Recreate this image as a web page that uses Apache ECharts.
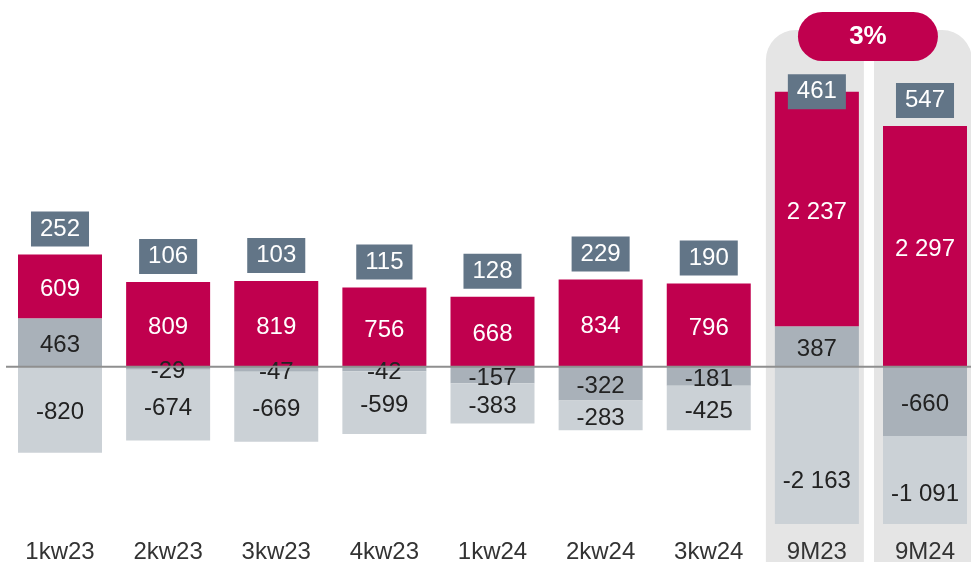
<!DOCTYPE html>
<html>
<head>
<meta charset="utf-8">
<script src="https://cdn.jsdelivr.net/npm/echarts@6/dist/echarts.min.js"></script>
<style>
  html, body { margin: 0; padding: 0; background: #fff; }
  #chart { width: 971px; height: 562px; }
</style>
</head>
<body>
<div id="chart"></div>
<script>
const categories = ['1kw23', '2kw23', '3kw23', '4kw23', '1kw24', '2kw24', '3kw24', '9M23', '9M24'];
const redValues = [609, 809, 819, 756, 668, 834, 796, 2237, 2297];
const darkGrayValues = [463, -29, -47, -42, -157, -322, -181, 387, -660];
const lightGrayValues = [-820, -674, -669, -599, -383, -283, -425, -2163, -1091];
const totals = [252, 106, 103, 115, 128, 229, 190, 461, 547];
const changeLabel = '3%';

const FONT = "'Liberation Sans', Arial, sans-serif";

// format with a space as thousands separator
const fmt = (v) => String(v).replace(/\B(?=(\d{3})+(?!\d))/g, ' ');

// top of the positive stack, where the total box sits
const topValues = redValues.map((v, i) => v + Math.max(darkGrayValues[i], 0));

const chart = echarts.init(document.getElementById('chart'));

const segLabel = (color) => ({
  show: true,
  position: 'inside',
  offset: [0, 3],
  color: color,
  fontSize: 24,
  fontFamily: FONT,
  formatter: (p) => fmt(p.value)
});

const option = {
  animation: false,
  grid: { left: 60, top: 0, right: 46, height: 524, outerBoundsMode: 'none' },
  xAxis: {
    type: 'category',
    data: categories,
    boundaryGap: false,
    axisLine: { show: false, onZero: false },
    axisTick: { show: false },
    axisLabel: { color: '#333', fontSize: 24, fontFamily: FONT, margin: 16 }
  },
  yAxis: {
    type: 'value',
    min: -1500,
    max: 3500,
    show: false,
    splitLine: { show: false }
  },
  series: [
    {
      name: 'dark',
      type: 'bar',
      stack: 'total',
      barWidth: 84,
      z: 3,
      itemStyle: { color: '#a9b1b9' },
      label: segLabel('#222'),
      data: darkGrayValues
    },
    {
      name: 'red',
      type: 'bar',
      stack: 'total',
      barWidth: 84,
      z: 3,
      itemStyle: { color: '#c0004e' },
      label: segLabel('#fff'),
      data: redValues
    },
    {
      name: 'light',
      type: 'bar',
      stack: 'total',
      barWidth: 84,
      z: 3,
      itemStyle: { color: '#cbd1d6' },
      label: segLabel('#222'),
      // the 9M bars are cut off at the bottom, labels stay at the full-bar centre
      data: lightGrayValues.map((v, i) => {
        if (i === 7) return { value: v, label: { offset: [0, 36] } };
        if (i === 8) return { value: v, label: { offset: [0, 14] } };
        return v;
      })
    },
    {
      name: 'total',
      type: 'scatter',
      symbolSize: 0,
      z: 8,
      itemStyle: { opacity: 1 },
      label: {
        show: true,
        position: 'top',
        distance: 8,
        color: '#fff',
        fontSize: 24,
        fontFamily: FONT,
        backgroundColor: '#627587',
        padding: [5, 9],
        lineHeight: 25,
        formatter: (p) => fmt(totals[p.dataIndex])
      },
      data: topValues.map((v, i) => {
        if (i === 7) return { value: [i, v], label: { position: 'inside' } };
        return [i, v];
      })
    }
  ]
};

chart.setOption(option);

// background pills behind the 9M bars, zero line and the change badge
const c1 = chart.convertToPixel({ xAxisIndex: 0 }, '9M23');
const c2 = chart.convertToPixel({ xAxisIndex: 0 }, '9M24');
const zeroY = chart.convertToPixel({ yAxisIndex: 0 }, 0);
const bgShape = (cx) => ({
  type: 'rect',
  z: 0,
  shape: { x: cx - 51, y: 30, width: 98, height: 560, r: [30, 30, 0, 0] },
  style: { fill: '#e5e5e5' }
});
const mid = (c1 + c2) / 2 - 3;

chart.setOption({
  graphic: [
    bgShape(c1),
    bgShape(c2),
    {
      type: 'line',
      z: 6,
      silent: true,
      shape: { x1: 6, y1: zeroY, x2: 971, y2: zeroY },
      style: { stroke: '#8f8f8f', lineWidth: 2 }
    },
    {
      type: 'rect',
      z: 20,
      shape: { x: mid - 70, y: 12, width: 140, height: 49, r: 24.5 },
      style: { fill: '#c0004e' }
    },
    {
      type: 'text',
      z: 21,
      x: mid,
      y: 37,
      style: {
        text: changeLabel,
        fill: '#fff',
        font: 'bold 26px ' + FONT,
        textAlign: 'center',
        textVerticalAlign: 'middle'
      }
    }
  ]
});

window.addEventListener('resize', () => chart.resize());
</script>
</body>
</html>
